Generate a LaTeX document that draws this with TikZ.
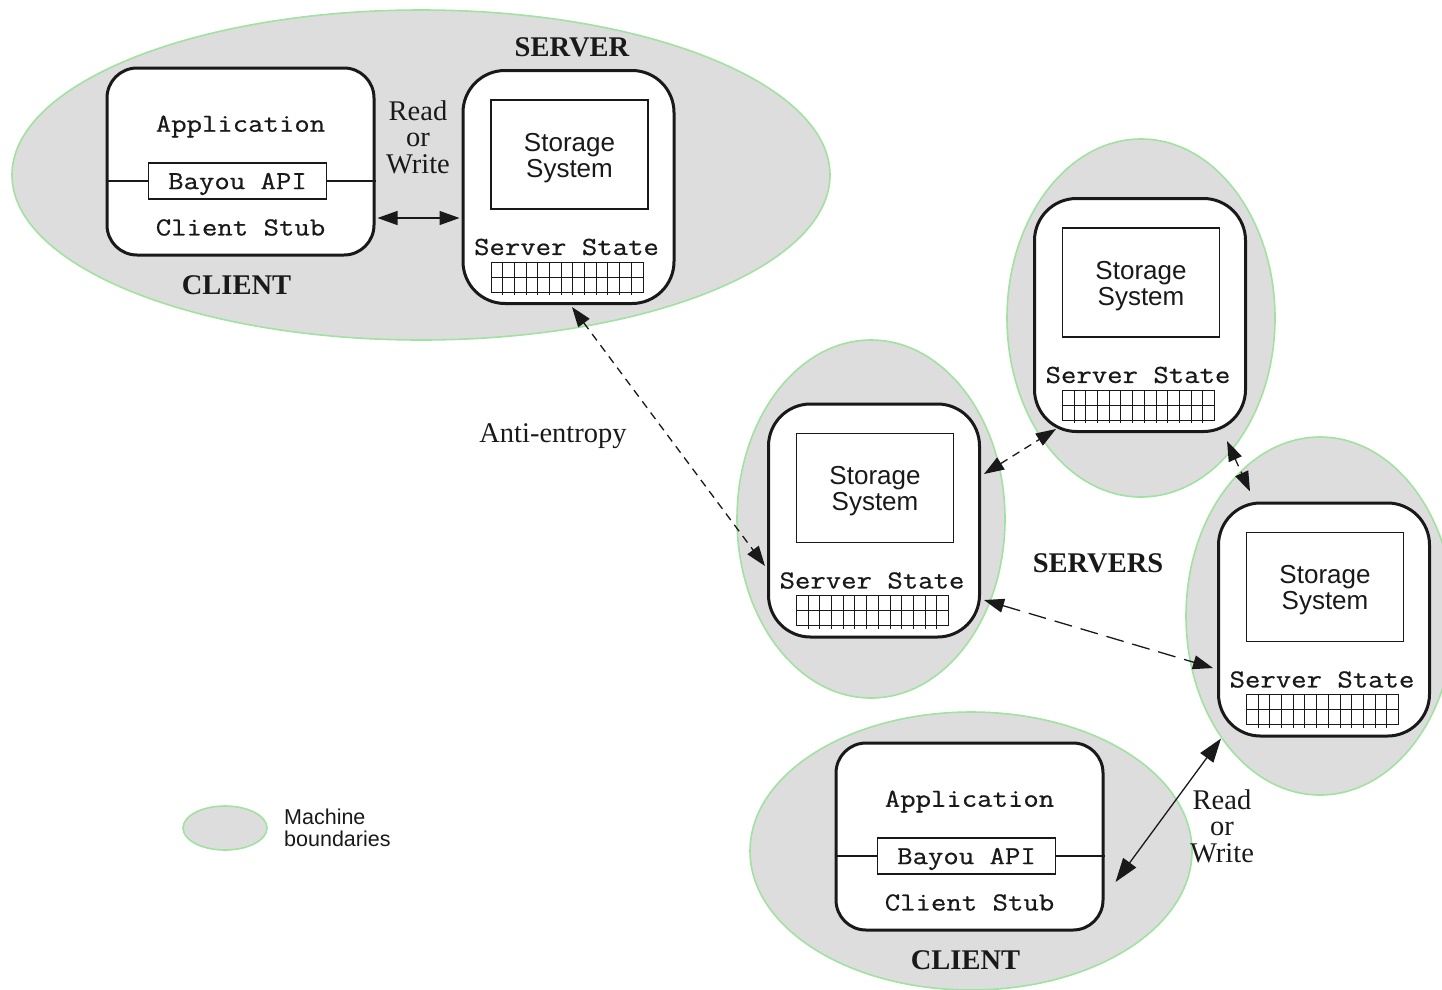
\documentclass[tikz,border=0pt]{standalone}
\usepackage{fontspec}
\setmainfont{Liberation Serif}
\setsansfont{Liberation Sans}
\setmonofont{Latin Modern Mono}[FakeStretch=1.15, FakeBold=0.6]
\usetikzlibrary{arrows.meta,calc}
\definecolor{machinefill}{RGB}{221,221,221}
\definecolor{machineedge}{RGB}{160,226,160}
\definecolor{ink}{RGB}{25,25,25}

\tikzset{
  machine/.style={fill=machinefill, draw=machineedge, line width=1.6pt},
  srvbox/.style={draw=ink, fill=white, line width=3pt, rounded corners=42pt,
    minimum width=211pt, minimum height=233pt, inner sep=0pt},
  clibox/.style={draw=ink, fill=white, line width=3pt, rounded corners=30pt,
    minimum width=267pt, minimum height=187pt, inner sep=0pt},
  storebox/.style={draw=ink, line width=1.2pt, minimum width=157pt, minimum height=109pt, inner sep=0pt},
  storetxt/.style={inner sep=0pt, align=center, text=ink, font=\sffamily\fontsize{26}{26}\selectfont},
  monotxt/.style={inner sep=0pt, text=ink, font=\ttfamily\fontsize{26}{28}\selectfont},
  apibox/.style={monotxt, draw=ink, line width=1.2pt, minimum width=178pt, minimum height=36pt, text depth=0pt},
  thinrule/.style={draw=ink, line width=1.2pt},
  gridline/.style={draw=ink, line width=1pt},
  seriftxt/.style={inner sep=0pt, text=ink, align=center, font=\fontsize{28.5}{26.5}\selectfont},
  boldlbl/.style={inner sep=0pt, text=ink, font=\bfseries\fontsize{28.5}{30}\selectfont},
  legendtxt/.style={inner sep=0pt, text=ink, align=left, font=\sffamily\fontsize{21.5}{22}\selectfont},
  rw/.style={{Triangle[length=20pt,width=14pt]}-{Triangle[length=20pt,width=14pt]}, draw=ink, line width=1.3pt},
  rwbig/.style={{Triangle[length=24pt,width=16pt]}-{Triangle[length=24pt,width=16pt]}, draw=ink, line width=1.3pt},
  ae/.style={rw, dash pattern=on 8pt off 6pt},
  aelong/.style={rw, dash pattern=on 18pt off 9pt},
}

% A replica server: storage system plus its state table
\newcommand\ServerBox[3]{%
  \node[srvbox] (#1) at (#2,#3) {};
  \node[storebox] (#1st) at ($(#1)+(1,-32.5)$) {};
  \node[storetxt] (#1stt) at ($(#1st)+(0,3.5)$) {Storage\\System};
  \node[monotxt] (#1ss) at ($(#1)+(-2,60)$) {Server State};
  \draw[gridline] ($(#1)+(-77.5,75)$) rectangle ($(#1)+(74.5,105)$);
  \draw[gridline] ($(#1)+(-77.5,90)$) -- ($(#1)+(74.5,90)$);
  \foreach \k in {1,...,12} {
    \draw[gridline] ($(#1)+(-77.5+\k*11.69,75)$) -- ($(#1)+(-77.5+\k*11.69,108)$);
  }
}

% A client machine: application on top of the Bayou client stub
\newcommand\ClientBox[3]{%
  \node[clibox] (#1) at (#2,#3) {};
  \node[monotxt] (#1app) at ($(#1)+(0,-35)$) {Application};
  \node[apibox] (#1api) at ($(#1)+(-3,19.5)$) {Bayou API};
  \draw[thinrule] (#1.west |- #1api.west) -- (#1api.west);
  \draw[thinrule] (#1api.east) -- (#1.east |- #1api.east);
  \node[monotxt] (#1stub) at ($(#1)+(0,66)$) {Client Stub};
  \node[boldlbl] (#1lbl) at ($(#1)+(-4,123.5)$) {CLIENT};
}

\begin{document}
\begin{tikzpicture}[x=1pt,y=-1pt]
\useasboundingbox (0,0) rectangle (1442,989);

% machine boundaries
\path[machine] (421,175) ellipse [x radius=409pt, y radius=165pt];
\path[machine] (871,519) ellipse [x radius=134pt, y radius=179pt];
\path[machine] (1320,616) ellipse [x radius=134pt, y radius=179pt];
\path[machine] (1141,318) ellipse [x radius=134pt, y radius=179pt];
\path[machine] (971,851) ellipse [x radius=221pt, y radius=139pt];

% machines
\ClientBox{c0}{240.5}{161.5}
\ClientBox{c1}{969.5}{836.5}
\ServerBox{s0}{568.5}{187}
\ServerBox{s1}{874}{520.5}
\ServerBox{s2}{1140}{315}
\ServerBox{s3}{1324}{619.5}

% labels
\node[boldlbl] (srvlbl) at (572,47) {SERVER};
\node[boldlbl] (srvslbl) at (1098,563) {SERVERS};
\node[seriftxt] (rw0) at (418,137) {Read\\or\\Write};
\node[seriftxt] (rw1) at (1222,826) {Read\\or\\Write};
\node[seriftxt] (aelbl) at (553,436) {Anti-entropy};

% client/server access
\draw[rw] ([yshift=-56.5pt,xshift=2pt]c0.east) -- ([yshift=-31pt,xshift=-2pt]s0.west);
\draw[rwbig] ([yshift=-45.5pt,xshift=11pt]c1.east) -- ([xshift=-103pt,yshift=-1pt]s3.south);

% anti-entropy sessions
\draw[ae] ([xshift=3.5pt,yshift=-2pt]s0.south) -- ([yshift=-45.5pt,xshift=-2pt]s1.west);
\draw[ae] ([yshift=46.5pt,xshift=3pt]s1.east) -- ([xshift=-84pt,yshift=4pt]s2.south);
\draw[ae] ([xshift=87pt,yshift=-8pt]s2.south) -- ([xshift=-74pt,yshift=10pt]s3.north);
\draw[aelong] ([yshift=-79.5pt,xshift=3pt]s1.east) -- ([yshift=-48.5pt,xshift=-4pt]s3.west);

% legend
\path[machine] (225,828) ellipse [x radius=42pt, y radius=22pt];
\node[legendtxt, anchor=west] (legend) at (284,828) {Machine\\boundaries};
\end{tikzpicture}
\end{document}
